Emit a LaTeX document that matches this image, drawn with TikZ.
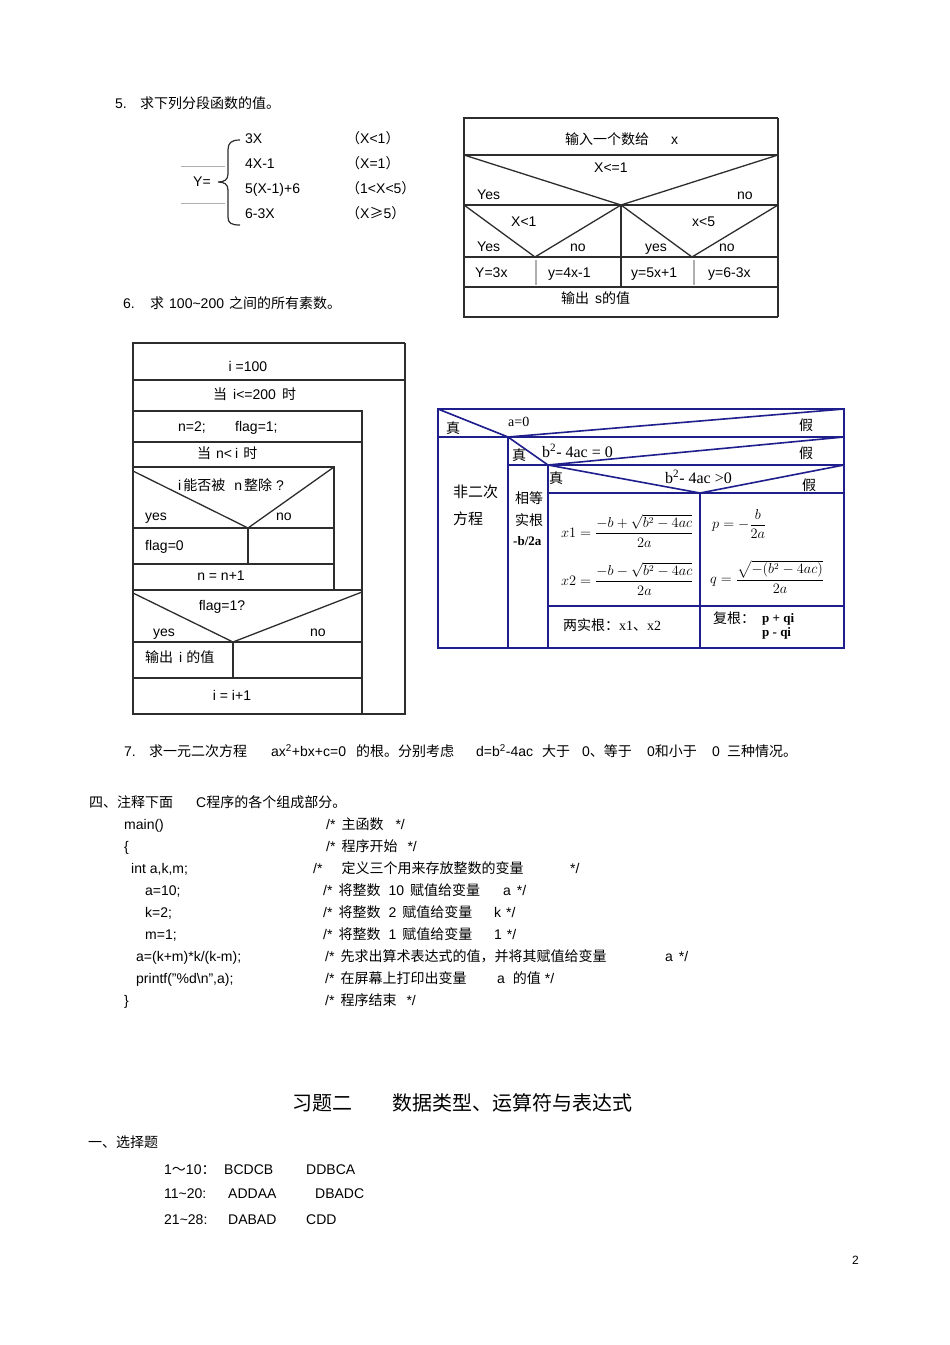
\documentclass[tikz,border=0pt]{standalone}
\usepackage{amsmath}
\usepackage{fontspec}
\setmainfont{Liberation Sans}
\newfontfamily\cjk{Noto Sans CJK SC}
\newfontfamily\serifl{Liberation Serif}
\newcommand\zh[1]{{\cjk #1}}
\definecolor{navy}{RGB}{30,30,140}
\definecolor{ln}{RGB}{45,45,45}
\definecolor{lgray}{RGB}{175,175,175}
\begin{document}
\begin{tikzpicture}[x=1pt,y=-1pt,
  font=\fontsize{14}{17}\selectfont,
  lt/.style={anchor=west,inner sep=0pt,text height=11pt,text depth=2pt},
  ct/.style={anchor=center,inner sep=0pt,text height=11pt,text depth=2pt},
  fl/.style={draw=ln,line width=1.3pt},
  bfl/.style={draw=navy,line width=1.6pt},
  bt/.style={anchor=west,inner sep=0pt,font=\fontsize{14}{17}\selectfont\serifl},
  ht/.style={anchor=west,inner sep=0pt,font=\fontsize{14}{17}\selectfont\cjk},
  mf/.style={anchor=west,inner sep=0pt,font=\fontsize{13.5}{16}\selectfont}]
\useasboundingbox (0,0) rectangle (950,1345);
\fill[white] (0,0) rectangle (950,1345);

% ---------- 5. piecewise function ----------
\node[lt] (n5) at (115,104) {5.};
\node[lt] (t5) at (140,104) {\zh{求下列分段函数的值。}};
\node[lt] (yeq) at (193,182) {Y=};
\draw[lgray,line width=0.8pt] (181,166) -- (225,166) (181,203) -- (225,203);
\draw[ln,line width=1.2pt] (240,140) .. controls (231,140) and (228,143) .. (228,150) -- (228,174)
  .. controls (228,180) and (224,182) .. (218,182) .. controls (224,182) and (228,184) .. (228,190)
  -- (228,217) .. controls (228,223) and (231,225) .. (240,225);
\node[lt] (f1) at (245,139) {3X};
\node[lt] (f2) at (245,164) {4X-1};
\node[lt] (f3) at (245,189) {5(X-1)+6};
\node[lt] (f4) at (245,214) {6-3X};
\node[lt] (c1) at (346,139) {\zh{（}X<1\zh{）}};
\node[lt] (c2) at (346,164) {\zh{（}X=1\zh{）}};
\node[lt] (c3) at (346,189) {\zh{（}1<X<5\zh{）}};
\node[lt] (c4) at (346,214) {\zh{（}X\zh{≥}5\zh{）}};

% ---------- top right flowchart ----------
\draw[fl] (778,118) -- (464,118) -- (464,317) -- (778,317);
\draw[ln,line width=2.2pt] (778,118) -- (778,317);
\draw[fl] (464,155) -- (778,155) (464,205) -- (778,205) (464,257) -- (778,257) (464,287) -- (778,287);
\draw[fl] (464,155) -- (621,205) -- (778,155);
\draw[fl] (464,205) -- (535,257) -- (621,205) -- (692,257) -- (778,205);
\draw[fl] (621,205) -- (621,287);
\draw[lgray,line width=1.3pt] (536,260) -- (536,285) (694,260) -- (694,285);
\node[lt] (in1) at (565,140) {\zh{输入一个数给}\hspace{22pt}x};
\node[lt] (d1) at (594,168) {X<=1};
\node[lt] (y1) at (477,195) {Yes};
\node[lt] (no1) at (737,195) {no};
\node[lt] (d2) at (511,222) {X<1};
\node[lt] (d3) at (692,222) {x<5};
\node[lt] (y2) at (477,247) {Yes};
\node[lt] (no2) at (570,247) {no};
\node[lt] (y3) at (645,247) {yes};
\node[lt] (no3) at (719,247) {no};
\node[lt] (r1) at (475,273) {Y=3x};
\node[lt] (r2) at (548,273) {y=4x-1};
\node[lt] (r3) at (631,273) {y=5x+1};
\node[lt] (r4) at (708,273) {y=6-3x};
\node[lt] (out1) at (561,299) {\zh{输出}\hspace{6pt}s\zh{的值}};

% ---------- 6. ----------
\node[lt] (n6) at (123,304) {6.};
\node[lt] (t6) at (150,304) {\zh{求}\hspace{5pt}100\textasciitilde 200\hspace{5pt}\zh{之间的所有素数。}};

% ---------- left N-S chart ----------
\draw[fl] (405,343) -- (133,343) -- (133,714) -- (405,714);
\draw[ln,line width=2.2pt] (405,343) -- (405,715);
\draw[fl] (133,380) -- (405,380);
\draw[fl] (133,411) -- (362,411) -- (362,714);
\draw[fl] (133,442) -- (362,442);
\draw[fl] (133,467) -- (334,467) -- (334,590);
\draw[fl] (133,471) -- (248,528) -- (334,467);
\draw[fl] (133,528) -- (334,528) (248,528) -- (248,564) (133,564) -- (334,564);
\draw[ln,line width=1.8pt] (133,590) -- (362,590);
\draw[fl] (133,593) -- (233,642) -- (362,592);
\draw[fl] (133,642) -- (362,642);
\draw[ln,line width=1.8pt] (233,642) -- (233,678) (133,678) -- (362,678);
\node[ct] (i100) at (248,367) {i =100};
\node[lt] (wh1) at (213,395) {\zh{当}\hspace{6pt}i<=200\hspace{6pt}\zh{时}};
\node[lt] (n2) at (178,427) {n=2;};
\node[lt] (fl1) at (235,427) {flag=1;};
\node[lt] (wh2) at (197,454) {\zh{当}\hspace{5pt}n<\hspace{3pt}i\hspace{5pt}\zh{时}};
\node[lt] (dv) at (178,486) {i\hspace{2pt}\zh{能否被}\hspace{9pt}n\hspace{2pt}\zh{整除}\hspace{4pt}?};
\node[lt] (ys1) at (145,516) {yes};
\node[lt] (no4) at (276,516) {no};
\node[lt] (fz) at (145,546) {flag=0};
\node[ct] (nn) at (221,576) {n = n+1};
\node[ct] (fq) at (222,606) {flag=1?};
\node[lt] (ys2) at (153,632) {yes};
\node[lt] (no5) at (310,632) {no};
\node[lt] (oi) at (145,658) {\zh{输出}\hspace{6pt}i\hspace{4pt}\zh{的值}};
\node[ct] (ii) at (232,696) {i = i+1};

% ---------- blue chart ----------
\draw[bfl] (438,409) rectangle (844,648);
\draw[bfl] (438,437) -- (844,437) (508,465) -- (844,465) (548,493) -- (844,493) (548,606) -- (844,606);
\draw[bfl] (508,437) -- (508,648) (548,465) -- (548,648) (700,493) -- (700,648);
\draw[bfl] (438,409) -- (508,437) -- (844,409);
\draw[bfl] (508,437) -- (548,465) -- (844,437);
\draw[bfl] (548,465) -- (700,493) -- (844,465);
\node[ht] (z1) at (446,428) {真};
\node[bt] (a0) at (508,422) {a=0};
\node[ht] (j1) at (799,425) {假};
\node[ht] (z2) at (512,455) {真};
\node[bt,font=\fontsize{16}{18}\selectfont\serifl] (e0) at (542,451) {b\textsuperscript{2}- 4ac = 0};
\node[ht] (j2) at (799,453) {假};
\node[ht] (z3) at (549,478) {真};
\node[bt,font=\fontsize{16}{18}\selectfont\serifl] (g0) at (665,477) {b\textsuperscript{2}- 4ac >0};
\node[ht] (j3) at (802,485) {假};
\node[ht,font=\fontsize{15}{18}\selectfont\cjk] (f2c) at (453,492) {非二次};
\node[ht,font=\fontsize{15}{18}\selectfont\cjk] (fc) at (453,519) {方程};
\node[ht] (xd) at (515,498) {相等};
\node[ht] (sg) at (515,520) {实根};
\node[bt,font=\fontsize{13}{16}\selectfont\serifl\bfseries] (hb) at (513,541) {-b/2a};
\node[mf] (x1f) at (561,531) {$x1=\dfrac{-b+\sqrt{b^2-4ac}}{2a}$};
\node[mf] (x2f) at (561,579) {$x2=\dfrac{-b-\sqrt{b^2-4ac}}{2a}$};
\node[mf] (pf) at (712,524) {$p=-\dfrac{b}{2a}$};
\node[mf] (qf) at (710,577) {$q=\dfrac{\sqrt{-(b^2-4ac)}}{2a}$};
\node[anchor=west,inner sep=0pt] (lsg) at (563,625) {\zh{两实根：}{\serifl x1\zh{、}x2}};
\node[ht] (fg) at (713,618) {复根：};
\node[bt,font=\fontsize{13}{15}\selectfont\serifl\bfseries] (pq1) at (762,619) {p + qi};
\node[bt,font=\fontsize{13}{15}\selectfont\serifl\bfseries] (pq2) at (762,633) {p - qi};

% ---------- 7. ----------
\node[lt] (n7) at (124,752) {7.};
\node[lt] (t7a) at (149,752) {\zh{求一元二次方程}};
\node[lt] (t7b) at (271,752) {ax\textsuperscript{2}+bx+c=0};
\node[lt] (t7c) at (356,752) {\zh{的根。分别考虑}};
\node[lt] (t7d) at (476,752) {d=b\textsuperscript{2}-4ac};
\node[lt] (t7e) at (542,752) {\zh{大于}};
\node[lt] (t7f) at (582,752) {0\zh{、等于}};
\node[lt] (t7g) at (647,752) {0\zh{和小于}};
\node[lt] (t7h) at (712,752) {0};
\node[lt] (t7i) at (727,752) {\zh{三种情况。}};

% ---------- section 4 ----------
\node[lt] (s4a) at (89,803) {\zh{四、注释下面}};
\node[lt] (s4b) at (196,803) {C\zh{程序的各个组成部分。}};
\node[lt] (k1) at (124,825) {main()};
\node[lt] (k2) at (124,847) {\{};
\node[lt] (k3) at (131,869) {int a,k,m;};
\node[lt] (k4) at (145,891) {a=10;};
\node[lt] (k5) at (145,913) {k=2;};
\node[lt] (k6) at (145,935) {m=1;};
\node[lt] (k7) at (136,957) {a=(k+m)*k/(k-m);};
\node[lt] (k8) at (136,979) {printf("\%d\textbackslash n",a);};
\node[lt] (k9) at (124,1001) {\}};
\node[lt] (m1) at (326,825) {/*\hspace{6pt}\zh{主函数}\hspace{12pt}*/};
\node[lt] (m2) at (326,847) {/*\hspace{6pt}\zh{程序开始}\hspace{10pt}*/};
\node[lt] (m3a) at (313,869) {/*\hspace{19pt}\zh{定义三个用来存放整数的变量}};
\node[lt] (m3b) at (570,869) {*/};
\node[lt] (m4a) at (323,891) {/*\hspace{6pt}\zh{将整数}\hspace{8pt}10\hspace{6pt}\zh{赋值给变量}};
\node[lt] (m4b) at (503,891) {a\hspace{6pt}*/};
\node[lt] (m5a) at (323,913) {/*\hspace{6pt}\zh{将整数}\hspace{8pt}2\hspace{6pt}\zh{赋值给变量}};
\node[lt] (m5b) at (494,913) {k\hspace{5pt}*/};
\node[lt] (m6a) at (323,935) {/*\hspace{6pt}\zh{将整数}\hspace{8pt}1\hspace{6pt}\zh{赋值给变量}};
\node[lt] (m6b) at (494,935) {1\hspace{5pt}*/};
\node[lt] (m7a) at (325,957) {/*\hspace{6pt}\zh{先求出算术表达式的值，并将其赋值给变量}};
\node[lt] (m7b) at (665,957) {a\hspace{6pt}*/};
\node[lt] (m8a) at (325,979) {/*\hspace{6pt}\zh{在屏幕上打印出变量}};
\node[lt] (m8b) at (497,979) {a\hspace{8pt}\zh{的值}\hspace{4pt}*/};
\node[lt] (m9) at (325,1001) {/*\hspace{6pt}\zh{程序结束}\hspace{10pt}*/};

% ---------- title & answers ----------
\node[lt,font=\fontsize{20}{24}\selectfont\cjk] (tt1) at (292,1106) {习题二};
\node[lt,font=\fontsize{20}{24}\selectfont\cjk] (tt2) at (392,1106) {数据类型、运算符与表达式};
\node[lt] (s1) at (88,1143) {\zh{一、选择题}};
\node[lt] (a1) at (164,1170) {1\zh{～}10\zh{：}};
\node[lt] (a1b) at (224,1170) {BCDCB};
\node[lt] (a1c) at (306,1170) {DDBCA};
\node[lt] (a2) at (164,1194) {11\textasciitilde 20:};
\node[lt] (a2b) at (228,1194) {ADDAA};
\node[lt] (a2c) at (315,1194) {DBADC};
\node[lt] (a3) at (164,1220) {21\textasciitilde 28:};
\node[lt] (a3b) at (228,1220) {DABAD};
\node[lt] (a3c) at (306,1220) {CDD};
\node[lt,font=\fontsize{12}{14}\selectfont] (pg) at (852,1260) {2};
\end{tikzpicture}
\end{document}
